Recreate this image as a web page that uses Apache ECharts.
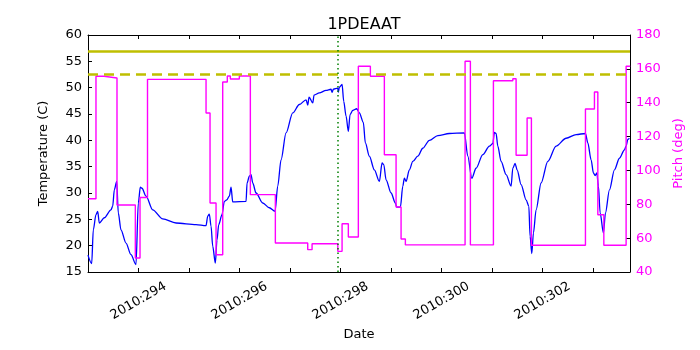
<!DOCTYPE html>
<html>
<head>
<meta charset="utf-8">
<script src="https://cdn.jsdelivr.net/npm/echarts@6/dist/echarts.min.js"></script>
<style>
  html, body { margin: 0; padding: 0; background: #fff; }
  #chart { width: 700px; height: 350px; }
</style>
</head>
<body>
<div id="chart"></div>
<script>
// temperature trace (day of year 2010, deg C)
const tempDays = [293.0, 293.073, 293.105, 293.158, 293.192, 293.224, 293.323, 293.455, 293.489, 293.521,
  293.568, 293.600, 293.653, 293.752, 293.851, 293.950, 293.996, 294.036, 294.069, 294.149,
  294.281, 294.479, 294.743, 295.139, 295.337, 295.370, 295.402, 295.436, 295.469, 295.521,
  295.554, 295.588, 295.653, 295.699, 295.747, 295.798, 295.832, 295.865, 296.129, 296.149,
  296.194, 296.228, 296.261, 296.327, 296.459, 296.590, 296.703, 296.756, 296.822, 296.921,
  297.053, 297.184, 297.317, 297.350, 297.376, 297.450, 297.475, 297.580, 297.713, 297.812,
  297.832, 297.857, 297.945, 297.956, 297.976, 298.030, 298.063, 298.109, 298.154, 298.188,
  298.242, 298.321, 298.372, 298.451, 298.491, 298.570, 298.669, 298.768, 298.822, 298.855,
  298.901, 299.000, 299.085, 299.113, 299.184, 299.232, 299.263, 299.297, 299.362, 299.430,
  299.529, 299.628, 299.758, 299.925, 300.154, 300.451, 300.519, 300.598, 300.683, 300.816,
  300.947, 301.014, 301.046, 301.079, 301.113, 301.178, 301.277, 301.376, 301.410, 301.455,
  301.495, 301.574, 301.673, 301.727, 301.752, 301.786, 301.818, 301.871, 301.970, 302.103,
  302.267, 302.465, 302.663, 302.848, 302.895, 302.960, 303.006, 303.040, 303.073, 303.105,
  303.139, 303.204, 303.244, 303.323, 303.422, 303.521, 303.620, 303.653, 303.687, 303.719]
const tempVals = [18.2, 16.6, 23.0, 25.9, 26.5, 24.3, 25.3, 26.8, 27.5, 30.6,
  32.2, 26.2, 23.0, 20.5, 18.3, 16.4, 28.1, 31.1, 30.9, 29.4,
  26.8, 25.1, 24.3, 24.0, 23.8, 25.6, 26.0, 23.7, 19.9, 16.7,
  21.1, 24.0, 25.9, 28.4, 28.7, 29.4, 31.1, 28.3, 28.4, 31.9,
  33.2, 33.5, 31.9, 30.0, 28.1, 27.2, 26.5, 31.3, 36.3, 41.4,
  45.2, 46.8, 47.7, 46.7, 48.2, 47.1, 48.6, 49.0, 49.5, 49.7,
  49.1, 49.7, 49.9, 49.1, 50.1, 50.6, 47.4, 44.6, 41.7, 44.9,
  45.7, 46.0, 45.2, 43.4, 39.5, 37.0, 34.4, 32.2, 35.7, 35.4,
  32.5, 30.0, 28.1, 27.3, 27.3, 31.3, 32.8, 32.2, 34.4, 36.0,
  37.0, 38.5, 40.0, 40.9, 41.3, 41.4, 37.0, 32.8, 34.7, 37.3,
  38.9, 39.4, 41.5, 41.3, 38.9, 36.0, 33.5, 31.3, 34.7, 35.6,
  34.4, 31.6, 28.7, 27.5, 21.8, 18.5, 22.4, 26.8, 31.9, 36.0,
  38.9, 40.4, 41.1, 41.3, 39.5, 36.3, 33.8, 33.3, 33.8, 31.3,
  26.2, 22.4, 26.2, 30.6, 34.4, 36.6, 38.2, 38.9, 40.2, 40.4]

// pitch steps (deg), each value holds until the next day
const pitchDays = [293.0, 293.158, 293.317, 293.574, 293.937, 294.03, 294.178, 295.337, 295.416, 295.535,
  295.667, 295.758, 295.818, 295.996, 296.214, 296.709, 297.350, 297.436, 297.945, 298.030,
  298.154, 298.352, 298.590, 298.867, 299.099, 299.198, 299.283, 300.465, 300.570, 301.026,
  301.410, 301.475, 301.693, 301.778, 302.848, 303.026, 303.093, 303.212, 303.653, 303.733]
const pitchVals = [83.3, 155.6, 154.6, 79.6, 48.3, 84, 153.8, 133.9, 80.8, 50.2,
  152.2, 155.8, 154, 155.8, 85.7, 57.1, 53.2, 56.7, 52.2, 68.5,
  60.7, 161.5, 155.6, 109.3, 78.4, 59.5, 56, 164.5, 56, 153,
  154.2, 109, 131, 55.8, 136.3, 146.3, 73.8, 55.8, 161.5, 161.5]

const planningLimit = 57
const cautionLimit = 52.5
const eventDay = 297.94

const dayMin = 293
const dayMax = 303.73

const font = 'DejaVu Sans, sans-serif'
const chart = echarts.init(document.getElementById('chart'))

const xBase = {
  type: 'value',
  min: dayMin,
  max: dayMax,
  interval: 1,
  splitLine: { show: false },
  axisLine: { lineStyle: { color: '#000', width: 1 } },
  axisTick: { inside: true, length: 4, lineStyle: { color: '#000' } }
}

chart.setOption({
  animation: false,
  title: {
    text: '1PDEAAT',
    left: 359,
    top: 12,
    textAlign: 'center',
    textStyle: { fontFamily: font, fontSize: 16, fontWeight: 'normal', color: '#000' }
  },
  grid: { left: 88, right: 70, top: 35, bottom: 78 },
  xAxis: [
    {
      ...xBase,
      position: 'bottom',
      name: 'Date',
      nameLocation: 'middle',
      nameGap: 54,
      nameTextStyle: { fontFamily: font, fontSize: 13, color: '#000' },
      axisLabel: {
        rotate: 30,
        align: 'center',
        verticalAlign: 'middle',
        margin: 29,
        showMaxLabel: false,
        fontFamily: font,
        fontSize: 13,
        color: '#000',
        formatter: (v) => {
          const d = Math.round(v)
          if (Math.abs(v - d) > 1e-6) return ''
          return d % 2 === 0 ? '2010:' + d : ''
        }
      }
    },
    {
      ...xBase,
      position: 'top',
      axisLabel: { show: false }
    }
  ],
  yAxis: [
    {
      type: 'value',
      min: 15,
      max: 60,
      interval: 5,
      position: 'left',
      name: 'Temperature (C)',
      nameLocation: 'middle',
      nameRotate: 90,
      nameGap: 38,
      nameTextStyle: { fontFamily: font, fontSize: 13, color: '#000' },
      splitLine: { show: false },
      axisLine: { show: true, lineStyle: { color: '#000' } },
      axisTick: { inside: true, length: 4, lineStyle: { color: '#000' } },
      axisLabel: { fontFamily: font, fontSize: 13, color: '#000', margin: 6 }
    },
    {
      type: 'value',
      min: 40,
      max: 180,
      interval: 20,
      position: 'right',
      name: 'Pitch (deg)',
      nameLocation: 'middle',
      nameRotate: 90,
      nameGap: 42,
      nameTextStyle: { fontFamily: font, fontSize: 13, color: '#ff00ff' },
      splitLine: { show: false },
      axisLine: { show: true, lineStyle: { color: '#000' } },
      axisTick: { inside: true, length: 4, lineStyle: { color: '#000' } },
      axisLabel: { fontFamily: font, fontSize: 13, color: '#ff00ff', margin: 6 }
    }
  ],
  series: [
    {
      name: 'Temperature',
      type: 'line',
      xAxisIndex: 0,
      yAxisIndex: 0,
      symbol: 'none',
      smooth: 0.3,
      smoothMonotone: 'x',
      z: 3,
      lineStyle: { color: '#0000ff', width: 1.3 },
      data: tempDays.map((d, i) => [d, tempVals[i]]),
      markLine: {
        silent: true,
        symbol: 'none',
        label: { show: false },
        data: [
          { yAxis: planningLimit, lineStyle: { color: '#bfbf00', width: 2.5, type: 'solid' } },
          { yAxis: cautionLimit, lineStyle: { color: '#bfbf00', width: 2.5, type: [10, 6] } },
          { xAxis: eventDay, lineStyle: { color: '#008000', width: 1.5, type: [1.5, 3] } }
        ]
      }
    },
    {
      name: 'Pitch',
      type: 'line',
      xAxisIndex: 0,
      yAxisIndex: 1,
      step: 'end',
      symbol: 'none',
      z: 4,
      lineStyle: { color: '#ff00ff', width: 1.4 },
      data: pitchDays.map((d, i) => [d, pitchVals[i]])
    }
  ]
})
</script>
</body>
</html>
